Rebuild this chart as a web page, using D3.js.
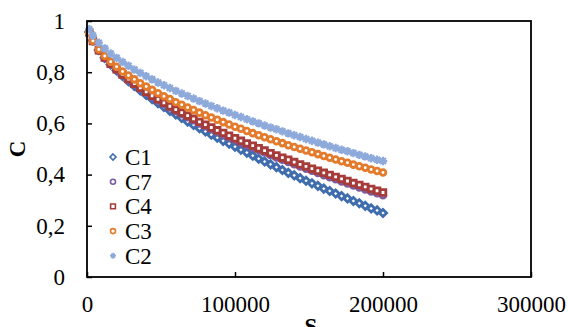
<!DOCTYPE html>
<html>
<head>
<meta charset="utf-8">
<script src="https://cdn.jsdelivr.net/npm/d3@7"></script>
<style>
  body { margin: 0; background: #fff; }
  text { font-family: "Liberation Serif", "Times New Roman", serif; fill: #000; }
</style>
</head>
<body>
<script>
// S values (x), one list shared by all series
const S = [1500, 4000, 8000, 12000, 16000, 20000, 24000, 28000, 32000, 36000, 40000,
  44000, 48000, 52000, 56000, 60000, 64000, 68000, 72000, 76000, 80000,
  84000, 88000, 92000, 96000, 100000, 104000, 108000, 112000, 116000, 120000,
  124000, 128000, 132000, 136000, 140000, 144000, 148000, 152000, 156000, 160000,
  164000, 168000, 172000, 176000, 180000, 184000, 188000, 192000, 196000, 200000];

// C values
const C1 = [0.957, 0.924, 0.887, 0.856, 0.830, 0.807, 0.785, 0.765, 0.746, 0.729, 0.711,
  0.695, 0.679, 0.664, 0.649, 0.635, 0.621, 0.607, 0.594, 0.581, 0.569,
  0.556, 0.544, 0.532, 0.521, 0.509, 0.497, 0.486, 0.474, 0.462, 0.451,
  0.440, 0.429, 0.418, 0.407, 0.397, 0.386, 0.376, 0.366, 0.356, 0.345,
  0.336, 0.326, 0.316, 0.307, 0.297, 0.288, 0.278, 0.268, 0.260, 0.250];
const C7 = [0.954, 0.921, 0.884, 0.855, 0.830, 0.808, 0.788, 0.769, 0.752, 0.735, 0.719,
  0.704, 0.690, 0.676, 0.662, 0.649, 0.636, 0.624, 0.612, 0.600, 0.589,
  0.578, 0.567, 0.556, 0.545, 0.535, 0.525, 0.515, 0.505, 0.496, 0.486,
  0.477, 0.467, 0.458, 0.449, 0.441, 0.432, 0.423, 0.415, 0.406, 0.398,
  0.390, 0.382, 0.373, 0.365, 0.358, 0.350, 0.342, 0.334, 0.327, 0.319];
const C4 = [0.955, 0.922, 0.886, 0.857, 0.833, 0.811, 0.791, 0.773, 0.755, 0.739, 0.723,
  0.708, 0.694, 0.680, 0.667, 0.654, 0.642, 0.630, 0.618, 0.606, 0.595,
  0.584, 0.573, 0.563, 0.552, 0.542, 0.532, 0.522, 0.513, 0.503, 0.494,
  0.484, 0.475, 0.466, 0.458, 0.449, 0.440, 0.432, 0.423, 0.415, 0.407,
  0.399, 0.391, 0.383, 0.375, 0.367, 0.360, 0.352, 0.344, 0.337, 0.330];
const C3 = [0.953, 0.923, 0.889, 0.863, 0.841, 0.821, 0.803, 0.787, 0.772, 0.757, 0.744,
  0.731, 0.718, 0.706, 0.695, 0.683, 0.673, 0.662, 0.652, 0.642, 0.632,
  0.623, 0.614, 0.605, 0.596, 0.587, 0.579, 0.570, 0.562, 0.554, 0.546,
  0.538, 0.530, 0.523, 0.515, 0.508, 0.501, 0.494, 0.487, 0.480, 0.473,
  0.466, 0.459, 0.452, 0.446, 0.439, 0.433, 0.427, 0.420, 0.414, 0.408];
const C2 = [0.968, 0.943, 0.915, 0.893, 0.873, 0.856, 0.840, 0.825, 0.810, 0.797, 0.784,
  0.772, 0.760, 0.749, 0.738, 0.727, 0.717, 0.707, 0.697, 0.687, 0.678,
  0.668, 0.659, 0.650, 0.642, 0.633, 0.625, 0.616, 0.608, 0.600, 0.592,
  0.584, 0.577, 0.569, 0.561, 0.554, 0.547, 0.539, 0.532, 0.525, 0.518,
  0.511, 0.504, 0.497, 0.491, 0.484, 0.477, 0.471, 0.464, 0.458, 0.453];

const seriesNames = ['C1', 'C7', 'C4', 'C3', 'C2'];
const seriesValues = [C1, C7, C4, C3, C2];
const xTicks = [0, 100000, 200000, 300000];
const yTicks = [0, 0.2, 0.4, 0.6, 0.8, 1];

const WIDTH = 568;
const HEIGHT = 327;
const MARGIN = {top: 21, right: 37, bottom: 50, left: 87};

// marker look per series: big one for the plot, small one for the legend
const markerStyle = {
  C1: {color: '#3f6dad', fill: '#fff', width: 2.8,
       big: 'M0,-3.6L3.6,0L0,3.6L-3.6,0Z', small: 'M0,-3L3,0L0,3L-3,0Z'},
  C7: {color: '#7b5ca3', fill: '#fff', width: 2.8,
       big: d3.symbol(d3.symbolCircle, 26)(), small: d3.symbol(d3.symbolCircle, 20)()},
  C4: {color: '#a53c3a', fill: '#fff', width: 2.8,
       big: 'M-2.8,-2.8h5.6v5.6h-5.6Z', small: 'M-2.4,-2.4h4.8v4.8h-4.8Z'},
  C3: {color: '#e47b2c', fill: '#fff', width: 2.8,
       big: d3.symbol(d3.symbolCircle, 26)(), small: d3.symbol(d3.symbolCircle, 20)()},
  C2: {color: '#8eaadb', fill: 'none', width: 2.2,
       big: 'M-4.2,0H4.2M0,-4.2V4.2M-3,-3L3,3M-3,3L3,-3',
       small: 'M-3,0H3M0,-3V3M-2,-2L2,2M-2,2L2,-2'}
};

const svg = d3.select('body')
  .append('svg')
  .attr('width', WIDTH)
  .attr('height', HEIGHT);

const xScale = d3.scaleLinear()
  .domain([0, 300000])
  .range([MARGIN.left, WIDTH - MARGIN.right]);
const yScale = d3.scaleLinear()
  .domain([0, 1])
  .range([HEIGHT - MARGIN.bottom, MARGIN.top]);

const commaFmt = d => String(d).replace('.', ',');

// points
seriesNames.forEach((name, i) => {
  const st = markerStyle[name];
  svg.append('g')
    .attr('class', 'series ' + name)
    .selectAll('path')
    .data(S.map((s, j) => ({s: s, c: seriesValues[i][j]})))
    .enter()
    .append('path')
    .attr('transform', d => 'translate(' + xScale(d.s) + ',' + yScale(d.c) + ')')
    .attr('d', st.big)
    .attr('fill', st.fill)
    .attr('stroke', st.color)
    .attr('stroke-width', st.width);
});

// frame
svg.append('rect')
  .attr('x', xScale(0))
  .attr('y', yScale(1))
  .attr('width', xScale(300000) - xScale(0))
  .attr('height', yScale(0) - yScale(1))
  .attr('fill', 'none')
  .attr('stroke', '#000')
  .attr('stroke-width', 1.8);

const xAxis = d3.axisBottom(xScale)
  .tickValues(xTicks)
  .tickFormat(d => String(d))
  .tickSizeInner(-5)
  .tickSizeOuter(0)
  .tickPadding(19);
const yAxis = d3.axisLeft(yScale)
  .tickValues(yTicks)
  .tickFormat(commaFmt)
  .tickSizeInner(-5)
  .tickSizeOuter(0)
  .tickPadding(22);

const gx = svg.append('g')
  .attr('transform', 'translate(0,' + yScale(0) + ')')
  .call(xAxis);
const gy = svg.append('g')
  .attr('transform', 'translate(' + xScale(0) + ',0)')
  .call(yAxis);

[gx, gy].forEach(g => {
  g.select('.domain').remove();
  g.selectAll('line').attr('stroke', '#000').attr('stroke-width', 1.5);
  g.selectAll('text')
    .style('font-family', '"Liberation Serif", "Times New Roman", serif')
    .style('font-size', '23px')
    .attr('fill', '#000');
});

// axis titles
svg.append('text')
  .attr('x', (xScale(0) + xScale(300000)) / 2 + 2)
  .attr('y', 334)
  .attr('text-anchor', 'middle')
  .style('font-size', '23px')
  .style('font-weight', 'bold')
  .text('S');

svg.append('text')
  .attr('transform', 'translate(25,' + (yScale(0.5)) + ') rotate(-90)')
  .attr('text-anchor', 'middle')
  .style('font-size', '23px')
  .style('font-weight', 'bold')
  .text('C');

// legend
const legend = svg.append('g')
  .attr('transform', 'translate(113,157)');

seriesNames.forEach((name, i) => {
  const st = markerStyle[name];
  const row = legend.append('g')
    .attr('transform', 'translate(0,' + (i * 24.7) + ')');
  row.append('path')
    .attr('d', st.small)
    .attr('fill', st.fill)
    .attr('stroke', st.color)
    .attr('stroke-width', 1.6);
  row.append('text')
    .attr('x', 12)
    .attr('y', 8)
    .style('font-size', '23px')
    .text(name);
});
</script>
</body>
</html>
